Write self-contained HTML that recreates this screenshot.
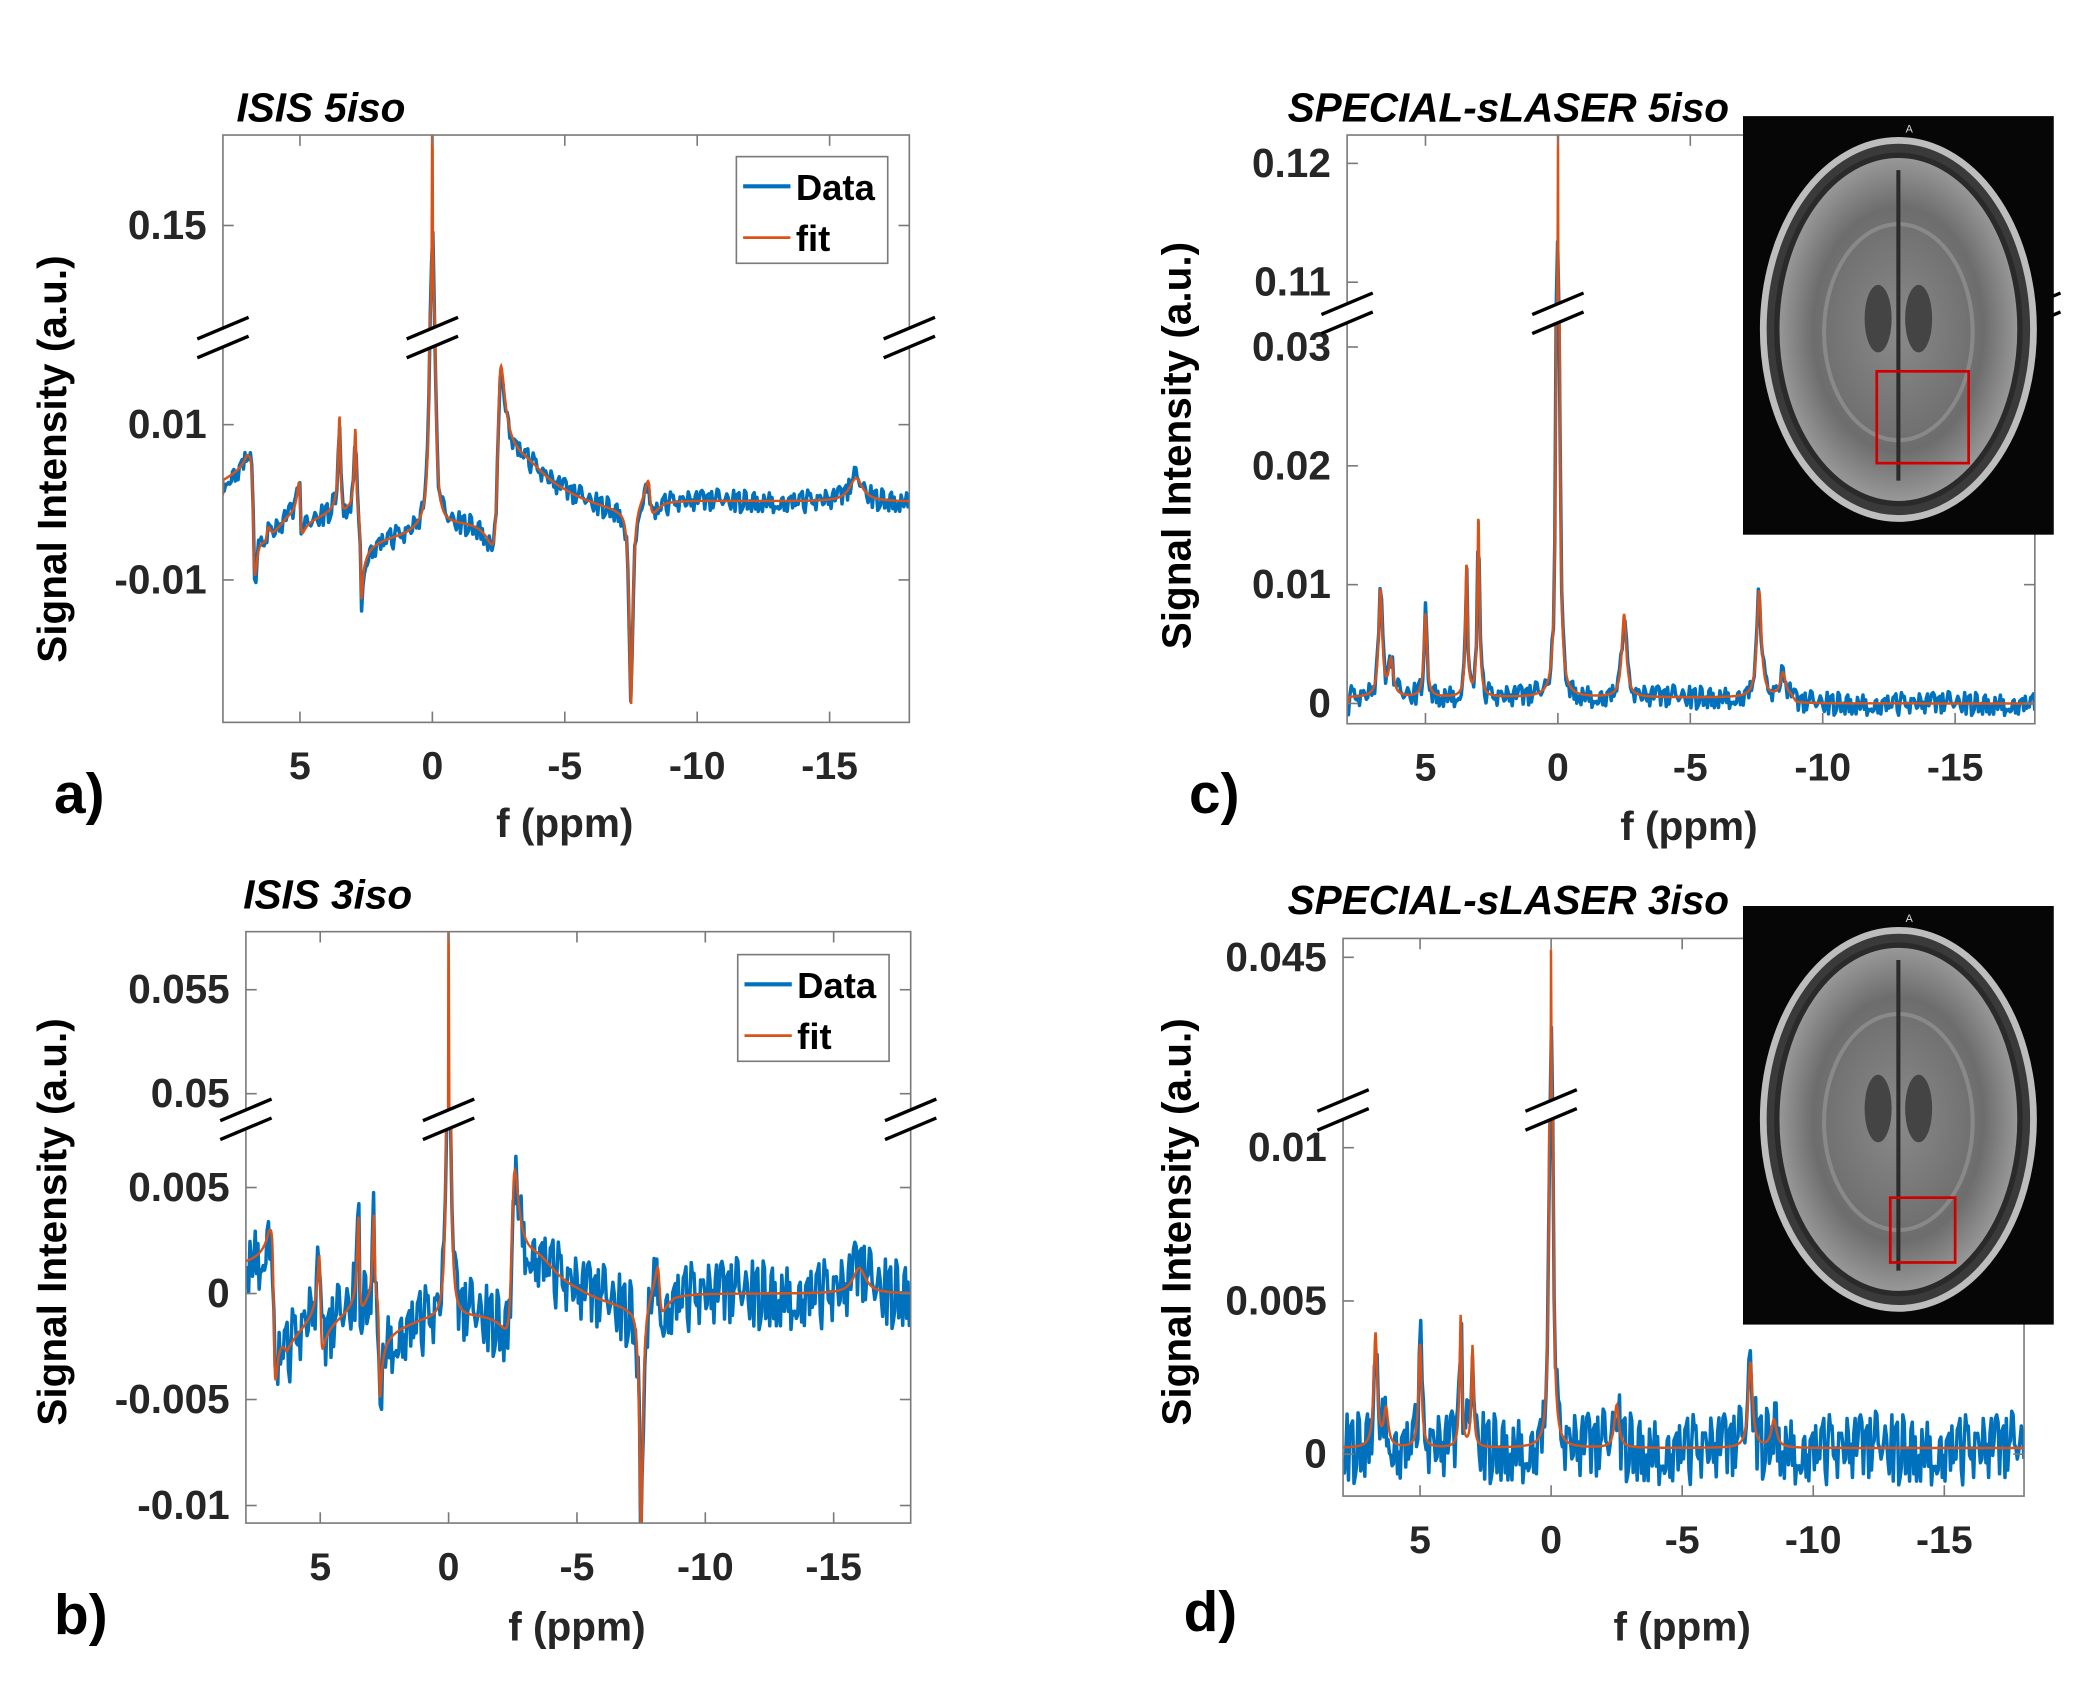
<!DOCTYPE html>
<html><head><meta charset="utf-8"><style>
html,body{margin:0;padding:0;background:#fff;}
svg{display:block;}
text{font-family:"Liberation Sans",Arial,sans-serif;}
</style></head><body>
<svg id="fig" width="2097" height="1704" viewBox="0 0 1552 1262" preserveAspectRatio="none" xmlns="http://www.w3.org/2000/svg">
<defs>
<clipPath id="ca"><rect x="165" y="100" width="508" height="435"/></clipPath>
<clipPath id="cb"><rect x="182" y="690" width="492" height="438"/></clipPath>
<clipPath id="cc"><rect x="997" y="100" width="509" height="436"/></clipPath>
<clipPath id="cd"><rect x="994" y="695" width="504" height="413"/></clipPath>
<radialGradient id="brain" cx="50%" cy="50%" r="50%">
<stop offset="0" stop-color="#8a8a8a"/><stop offset="0.7" stop-color="#6d6d6d"/><stop offset="1" stop-color="#9a9a9a"/></radialGradient>
</defs>
<g id="layer"></g>
</svg>
<script>
// ---------- data ----------
// peaks: [ppm, absorption amplitude, dispersion amplitude, width(ppm)]
const peaksA=[[6.75,-0.006,0.012,0.08],[6.2,0.002,0,0.1],[5.0,0.003,0.006,0.06],[3.5,0.012,0.004,0.05],[2.9,0.011,0.004,0.05],[2.7,-0.006,0.008,0.05],[0,0.2,0,0.04],[-2.5,0.01,-0.02,0.15],[-3.5,0.004,0,1.2],[-7.5,-0.026,0,0.08],[-8.2,0.002,0.004,0.1],[-16,0.003,0,0.3]];
const baseA=[[7.9,0.002],[7,0.003],[6.3,-0.004],[5.5,-0.002],[3.2,-0.001],[2.5,-0.004],[1,-0.003],[0.3,-0.002],[-2,-0.001],[-5,-0.001],[-7,-0.002],[-8.8,0.0],[-18,0.0]];
const peaksB=[[6.8,-0.002,0.006,0.08],[5.0,0.002,0.004,0.06],[3.5,0.004,0.002,0.05],[2.9,0.004,0.002,0.05],[2.7,-0.002,0.004,0.05],[0,0.062,0,0.04],[-2.5,0.004,-0.006,0.15],[-3.5,0.0015,0,1.0],[-7.5,-0.011,0,0.08],[-8.2,0.001,0.002,0.1],[-16,0.0012,0,0.3]];
const baseB=[[7.9,0.001],[7,0.001],[6.3,-0.002],[5.5,-0.0015],[3.2,-0.0005],[2.5,-0.0012],[1,-0.0008],[-2,-0.0005],[-5,-0.0005],[-7,-0.001],[-8.8,0.0],[-18,0.0]];
const peaksC=[[6.7,0.009,0,0.08],[6.3,0.003,0,0.1],[5.0,0.007,0,0.07],[3.45,0.0112,0,0.05],[3.0,0.0152,0,0.05],[0,0.124,0,0.04],[-2.5,0.007,0,0.1],[-7.6,0.009,0,0.1],[-8.5,0.002,0,0.12]];
const baseC=[[7.9,0.0005],[-8.8,0.0005],[-9,0.0],[-18,0.0]];
const peaksD=[[6.7,0.0037,0,0.08],[6.3,0.0012,0,0.1],[5.0,0.0034,0,0.07],[3.45,0.0043,0,0.05],[3.0,0.0033,0,0.05],[0,0.046,0,0.04],[-2.5,0.0014,0,0.1],[-7.6,0.0028,0,0.1],[-8.5,0.0009,0,0.12]];
const baseD=[[7.9,0.0002],[-18,0.0002]];
const noise=[0.3,-0.8,0.5,-0.2,0.9,-0.6,0.1,-1.0,0.4,0.7,-0.3,-0.9,0.6,0.2,-0.5,0.8,-0.7,0.0,0.5,-0.4,1.0,-0.6,-0.2,0.3,-0.8,0.6,-0.1,0.9,-0.5,0.2,-0.9,0.4,0.7,-0.3,0.1,-0.7,0.8,-0.4,0.3,-1.0,0.5,0.0,-0.6,0.9,-0.2,0.4,-0.8,0.6,-0.3,0.2,0.7,-0.9,0.1,-0.5,0.8,-0.1,0.3,-0.7,0.5,-0.4,0.9,-0.6,0.2,-0.8,0.4,0.0,-0.3,0.7,-1.0,0.6,-0.2,0.5,-0.5,0.8,-0.7,0.1,0.3,-0.9,0.6,-0.1,0.4,-0.6,0.9,-0.3,0.2,-0.8,0.7,-0.4,0.0,0.5,-0.7,0.3,0.8,-0.5,0.1,-0.9,0.6,-0.2,0.4,-0.6];
const xTicks=[5,0,-5,-10,-15];
const xTickLabels=["5","0","-5","-10","-15"];
const yTicksA=[0.15,0.01,-0.01], yLabA=["0.15","0.01","-0.01"];
const yTicksB=[0.055,0.05,0.005,0,-0.005,-0.01], yLabB=["0.055","0.05","0.005","0","-0.005","-0.01"];
const yTicksC=[0.12,0.11,0.03,0.02,0.01,0], yLabC=["0.12","0.11","0.03","0.02","0.01","0"];
const yTicksD=[0.045,0.01,0.005,0], yLabD=["0.045","0.01","0.005","0"];

const NS="http://www.w3.org/2000/svg";
const L=document.getElementById('layer');
function mk(tag,attrs,parent){const e=document.createElementNS(NS,tag);for(const k in attrs)e.setAttribute(k,attrs[k]);(parent||L).appendChild(e);return e;}

const panels=[
 {id:'a',x0:165,x1:673,yT:100,yB:535,px0:320,ppx:19.6,low0:372,lowK:5750,lowMax:0.023,upV:0.15,upY:167,upK:2233,upMin:0.14,peaks:peaksA,base:baseA,nAmp:0.0015,yt:yTicksA,yl:yLabA,title:'ISIS 5iso',tx:175,ty:90,lab:'a)',lx:40,ly:602,ytx:38,yty:340,xtx:418,xty:620,brk:[250,320,null],legend:[545,116],clip:'ca',noff:0,inset:null},
 {id:'b',x0:182,x1:674,yT:690,yB:1128,px0:332,ppx:19,low0:958,lowK:15700,lowMax:0.008,upV:0.05,upY:810,upK:15400,upMin:0.0485,peaks:peaksB,base:baseB,nAmp:0.0017,yt:yTicksB,yl:yLabB,title:'ISIS 3iso',tx:180,ty:673,lab:'b)',lx:40,ly:1210,ytx:38,yty:905,xtx:427,xty:1215,brk:[829,332,null],legend:[546,707],clip:'cb',noff:37,inset:null},
 {id:'c',x0:997,x1:1506,yT:100,yB:536,px0:1153,ppx:19.6,low0:521,lowK:8800,lowMax:0.033,upV:0.11,upY:209,upK:8800,upMin:0.1075,peaks:peaksC,base:baseC,nAmp:0.001,yt:yTicksC,yl:yLabC,title:'SPECIAL-sLASER 5iso',tx:953,ty:90,lab:'c)',lx:880,ly:602,ytx:870,yty:330,xtx:1250,xty:622,brk:[232,1153,null],legend:null,clip:'cc',noff:61,inset:[86,1389,275,68]},
 {id:'d',x0:994,x1:1498,yT:695,yB:1108,px0:1148,ppx:19.4,low0:1077,lowK:22700,lowMax:0.011,upV:0.045,upY:709,upK:22200,upMin:0.04,peaks:peaksD,base:baseD,nAmp:0.0012,yt:yTicksD,yl:yLabD,title:'SPECIAL-sLASER 3iso',tx:953,ty:677,lab:'d)',lx:876,ly:1208,ytx:870,yty:905,xtx:1245,xty:1215,brk:[822,1148,null],legend:null,clip:'cd',noff:83,inset:[671,1399,887,48]}
];

function model(p,x){
  let b=p.base[p.base.length-1][1];
  for(let i=0;i<p.base.length-1;i++){const a=p.base[i],c=p.base[i+1];if(x<=a[0]&&x>=c[0]){b=a[1]+(c[1]-a[1])*(a[0]-x)/(a[0]-c[0]);break;}}
  let v=b;
  for(const q of p.peaks){const u=(x-q[0])/q[3];const l=1/(1+u*u);v+=q[1]*l+q[2]*u*l;}
  return v;
}

panels.forEach(p=>{
  const xs=v=>p.px0-v*p.ppx;
  const yLowTop=p.low0-p.lowMax*p.lowK, yUpBot=p.upY-(p.upMin-p.upV)*p.upK;
  const ys=v=>{
    if(v<=p.lowMax) return p.low0-v*p.lowK;
    if(v>=p.upMin) return p.upY-(v-p.upV)*p.upK;
    return yLowTop+(yUpBot-yLowTop)*(v-p.lowMax)/(p.upMin-p.lowMax);
  };
  const g=mk('g',{});
  
  
  const pmin=(p.px0-p.x0)/p.ppx, pmax=(p.px0-p.x1)/p.ppx;
  const N=500;
  let dD='',dF='';
  for(let i=0;i<=N;i++){
    const x=pmin+(pmax-pmin)*i/N;
    const f=model(p,x);
    let n=noise[(i*7+p.noff)%noise.length]*p.nAmp;
    if(Math.abs(x)<0.15) n=0;
    dD+=(i?'L':'M')+xs(x).toFixed(1)+','+ys(f+n).toFixed(1);
  }
  const N2=1500;
  for(let i=0;i<=N2;i++){const x=pmin+(pmax-pmin)*i/N2;dF+=(i?'L':'M')+xs(x).toFixed(1)+','+ys(model(p,x)).toFixed(1);}
  const cg=mk('g',{'clip-path':'url(#'+p.clip+')'},g);
  const dl=mk('path',{d:dD,fill:'none',stroke:'#0072BD','stroke-width':2.6,'stroke-linejoin':'round'},cg);
  
  
  const fl=mk('path',{d:dF,fill:'none',stroke:'#D95319','stroke-width':1.8},cg);
  
  
  const box=mk('rect',{x:p.x0,y:p.yT,width:p.x1-p.x0,height:p.yB-p.yT,fill:'none',stroke:'#7a7a7a','stroke-width':1.2},g);
  
  
  xTicks.forEach((t,i)=>{
    const x=xs(t);
    mk('line',{x1:x,x2:x,y1:p.yB,y2:p.yB-8,stroke:'#7a7a7a','stroke-width':1.2},g);
    mk('line',{x1:x,x2:x,y1:p.yT,y2:p.yT+8,stroke:'#7a7a7a','stroke-width':1.2},g);
    const tl=mk('text',{x:x,y:p.yB+42,'font-size':29,'font-weight':'bold',fill:'#262626','text-anchor':'middle'},g);
    tl.textContent=xTickLabels[i];
    
    
  });
  p.yt.forEach((t,i)=>{
    const y=ys(t);
    mk('line',{x1:p.x0,x2:p.x0+8,y1:y,y2:y,stroke:'#7a7a7a','stroke-width':1.2},g);
    mk('line',{x1:p.x1,x2:p.x1-8,y1:y,y2:y,stroke:'#7a7a7a','stroke-width':1.2},g);
    const tl=mk('text',{x:p.x0-12,y:y+10,'font-size':30,'font-weight':'bold',fill:'#262626','text-anchor':'end'},g);
    tl.textContent=p.yl[i];
    
    
  });
  [p.x0,p.brk[1],p.x1].forEach(cx=>{
    const by=p.brk[0];
    mk('polygon',{points:`${cx-19},${by+1} ${cx+19},${by-15} ${cx+19},${by-1} ${cx-19},${by+15}`,fill:'#fff'},g);
    const bl=mk('g',{},g);
    
    
    mk('line',{x1:cx-19,y1:by+1,x2:cx+19,y2:by-15,stroke:'#000','stroke-width':2.5},bl);
    mk('line',{x1:cx-19,y1:by+15,x2:cx+19,y2:by-1,stroke:'#000','stroke-width':2.5},bl);
  });
  const tt=mk('text',{x:p.tx,y:p.ty,'font-size':30,'font-weight':'bold','font-style':'italic',fill:'#000'},g);
  tt.textContent=p.title;
  
  
  const lb=mk('text',{x:p.lx,y:p.ly,'font-size':42,'font-weight':'bold',fill:'#000'},g);
  lb.textContent=p.lab;
  
  
  const yt=mk('text',{x:0,y:0,transform:`translate(${p.ytx+11},${p.yty}) rotate(-90)`,'font-size':30,'font-weight':'bold',fill:'#000','text-anchor':'middle'},g);
  yt.textContent='Signal Intensity (a.u.)';
  
  
  const xt=mk('text',{x:p.xtx,y:p.xty,'font-size':30,'font-weight':'bold',fill:'#262626','text-anchor':'middle'},g);
  xt.textContent='f (ppm)';
  
  
  if(p.legend){
    const [lx,ly]=p.legend;
    const lg=mk('g',{},g);
    
    
    mk('rect',{x:lx,y:ly,width:112,height:79,fill:'#fff',stroke:'#7a7a7a','stroke-width':1.2},lg);
    mk('line',{x1:lx+5,x2:lx+40,y1:ly+22,y2:ly+22,stroke:'#0072BD','stroke-width':3},lg);
    const t1=mk('text',{x:lx+44,y:ly+32,'font-size':27,'font-weight':'bold',fill:'#000'},lg);t1.textContent='Data';
    
    
    mk('line',{x1:lx+5,x2:lx+40,y1:ly+60,y2:ly+60,stroke:'#D95319','stroke-width':2},lg);
    const t2=mk('text',{x:lx+44,y:ly+70,'font-size':27,'font-weight':'bold',fill:'#000'},lg);t2.textContent='fit';
    
    
  }
  if(p.inset){
    const [iy,rx,ry,rs]=p.inset;
    const ig=mk('g',{},g);
    
    
    mk('rect',{x:1290,y:iy,width:230,height:310,fill:'#060606'},ig);
    mk('ellipse',{cx:1405,cy:iy+158,rx:100,ry:140,fill:'#3a3a3a',stroke:'#bdbdbd','stroke-width':5},ig);
    mk('ellipse',{cx:1405,cy:iy+158,rx:90,ry:129,fill:'url(#brain)',stroke:'#2a2a2a','stroke-width':4},ig);
    mk('ellipse',{cx:1405,cy:iy+160,rx:55,ry:80,fill:'none',stroke:'#9a9a9a','stroke-width':3,opacity:0.6},ig);
    mk('line',{x1:1405,y1:iy+40,x2:1405,y2:iy+270,stroke:'#2b2b2b','stroke-width':3},ig);
    mk('ellipse',{cx:1390,cy:iy+150,rx:10,ry:25,fill:'#444'},ig);
    mk('ellipse',{cx:1420,cy:iy+150,rx:10,ry:25,fill:'#444'},ig);
    const t=mk('text',{x:1413,y:iy+12,'font-size':8,fill:'#ddd','text-anchor':'middle'},ig);t.textContent='A';
    mk('rect',{x:rx,y:ry,width:rs,height:rs,fill:'none',stroke:'#d00000','stroke-width':2},ig);
  }
});
</script>
</body></html>
